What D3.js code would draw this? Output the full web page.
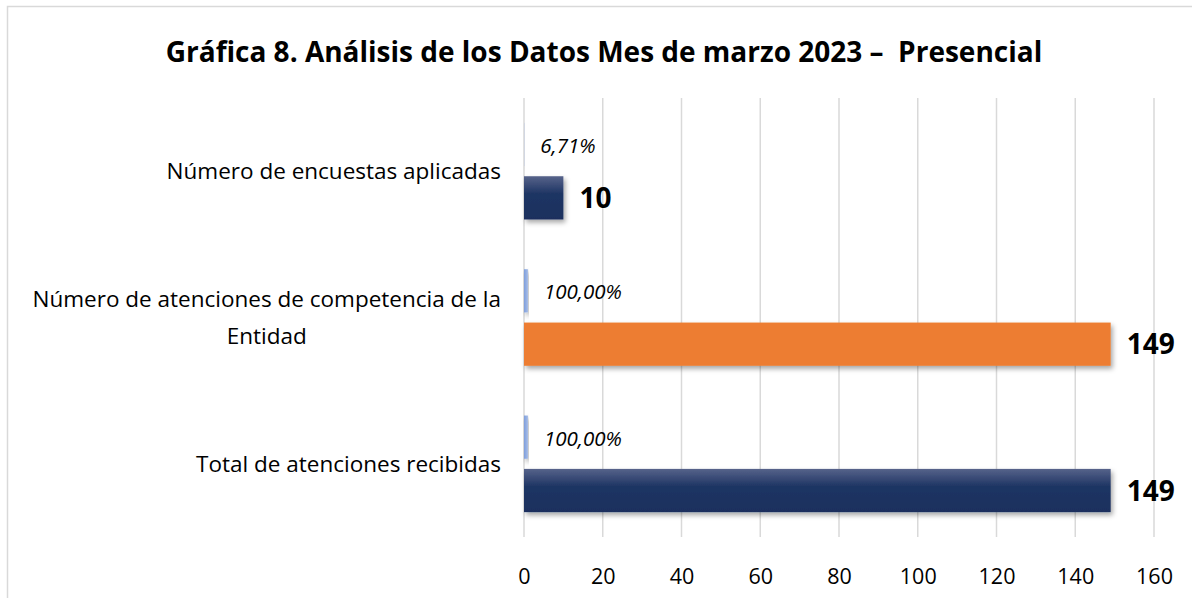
<!DOCTYPE html>
<html>
<head>
<meta charset="utf-8">
<script src="https://cdn.jsdelivr.net/npm/d3@7"></script>
<style>
  html, body { margin: 0; padding: 0; background: #ffffff; }
  svg { display: block; }
</style>
</head>
<body>
<svg id="chart" width="1192" height="598"></svg>
<script>
const title = "Gráfica 8. Análisis de los Datos Mes de marzo 2023 –  Presencial";
const categories = [
  "Número de encuestas aplicadas",
  "Número de atenciones de competencia de la Entidad",
  "Total de atenciones recibidas"
];
const percentValues = [0.0671, 1, 1];
const percentLabels = ["6,71%", "100,00%", "100,00%"];
const countValues = [10, 149, 149];
const countColors = ["navy", "orange", "navy"];
const xTicks = [0, 20, 40, 60, 80, 100, 120, 140, 160];
const series = ["percent", "count"];

const FONT = "'Open Sans', 'Noto Sans', sans-serif";
const svg = d3.select("#chart");

// defs: gradients + shadow
const defs = svg.append("defs");
const gNavy = defs.append("linearGradient").attr("id", "navyGrad")
  .attr("x1", 0).attr("y1", 0).attr("x2", 0).attr("y2", 1);
gNavy.append("stop").attr("offset", "0%").attr("stop-color", "#56638a");
gNavy.append("stop").attr("offset", "40%").attr("stop-color", "#1f3564");
gNavy.append("stop").attr("offset", "100%").attr("stop-color", "#1a2f5d");
const gBlue = defs.append("linearGradient").attr("id", "blueGrad")
  .attr("x1", 0).attr("y1", 0).attr("x2", 1).attr("y2", 0);
gBlue.append("stop").attr("offset", "0%").attr("stop-color", "#7f9fdc");
gBlue.append("stop").attr("offset", "100%").attr("stop-color", "#a6bce6");
const shadow = defs.append("filter").attr("id", "shadow")
  .attr("x", "-10%").attr("y", "-20%").attr("width", "130%").attr("height", "160%");
shadow.append("feDropShadow").attr("dx", 2).attr("dy", 3).attr("stdDeviation", 2.5)
  .attr("flood-color", "#000").attr("flood-opacity", 0.35);

const colorFor = c => c === "navy" ? "url(#navyGrad)" : "#ED7D31";

// frame
svg.append("rect").attr("x", 7.5).attr("y", 6.5).attr("width", 1200).attr("height", 600)
  .attr("fill", "#ffffff").attr("stroke", "#d9d9d9").attr("stroke-width", 1.5);

// title
svg.append("text").attr("x", 604).attr("y", 62).attr("text-anchor", "middle")
  .attr("font-family", FONT).attr("font-weight", "bold").attr("font-size", 28)
  .attr("fill", "#000").style("white-space", "pre").text(title);

// scales
const plotTop = 98, plotBottom = 537;
const x = d3.scaleLinear().domain([0, 160]).range([524, 1154]);
const y0 = d3.scaleBand().domain(d3.range(categories.length))
  .range([plotTop, plotBottom]).paddingInner(0.34).paddingOuter(0.17);
const y1 = d3.scaleBand().domain(series).range([0, y0.bandwidth()]).paddingInner(0.19);
const yCat = d3.scaleBand().domain(d3.range(categories.length)).range([plotTop, plotBottom]);

// gridlines
svg.append("g").selectAll("line").data(xTicks).join("line")
  .attr("x1", d => x(d)).attr("x2", d => x(d))
  .attr("y1", plotTop).attr("y2", plotBottom)
  .attr("stroke", "#d9d9d9").attr("stroke-width", 1.5);

// x axis labels
const xAxis = d3.axisBottom(x).tickValues(xTicks).tickSize(0).tickPadding(0)
  .tickFormat(d => String(d));
const gx = svg.append("g").attr("transform", `translate(0, 569)`).call(xAxis);
gx.select(".domain").remove();
gx.selectAll("text").attr("font-family", FONT).attr("font-size", 21.5).attr("fill", "#000");

// category labels (wrapped, block right-aligned, lines centered)
const labelRight = 501, maxLabelW = 485, catSize = 22.5;
categories.forEach((cat, i) => {
  const g = svg.append("g");
  const words = cat.split(" ");
  const measure = g.append("text").attr("font-family", FONT).attr("font-size", catSize);
  const lines = [];
  let cur = "";
  words.forEach(w => {
    const test = cur ? cur + " " + w : w;
    measure.text(test);
    if (measure.node().getComputedTextLength() > maxLabelW && cur) {
      lines.push(cur); cur = w;
    } else cur = test;
  });
  lines.push(cur);
  let maxW = 0;
  lines.forEach(l => { measure.text(l); maxW = Math.max(maxW, measure.node().getComputedTextLength()); });
  measure.remove();
  const cy = yCat(i) + yCat.bandwidth() / 2;
  const lh = 37;
  const startY = cy - (lines.length - 1) * lh / 2;
  lines.forEach((l, k) => {
    g.append("text").attr("x", labelRight - maxW / 2).attr("y", startY + k * lh)
      .attr("dy", "0.35em").attr("text-anchor", "middle")
      .attr("font-family", FONT).attr("font-size", catSize).attr("fill", "#000").text(l);
  });
});

// bars
const groups = svg.append("g").selectAll("g").data(categories.map((c, i) => i)).join("g")
  .attr("transform", i => `translate(0, ${y0(i)})`);

groups.append("rect")
  .attr("x", x(0)).attr("y", y1("percent"))
  .attr("width", i => x(percentValues[i]) - x(0)).attr("height", y1.bandwidth())
  .attr("fill", "url(#blueGrad)").attr("filter", "url(#shadow)");

groups.append("rect")
  .attr("x", x(0)).attr("y", y1("count"))
  .attr("width", i => x(countValues[i]) - x(0)).attr("height", y1.bandwidth())
  .attr("fill", i => colorFor(countColors[i])).attr("filter", "url(#shadow)");

groups.append("text")
  .attr("x", i => x(percentValues[i]) + 16)
  .attr("y", y1("percent") + y1.bandwidth() / 2).attr("dy", "0.42em")
  .attr("font-family", FONT).attr("font-style", "italic").attr("font-size", 20.5)
  .attr("fill", "#000").text(i => percentLabels[i]);

groups.append("text")
  .attr("x", i => x(countValues[i]) + 16)
  .attr("y", y1("count") + y1.bandwidth() / 2).attr("dy", "0.36em")
  .attr("font-family", FONT).attr("font-weight", "bold").attr("font-size", 28)
  .attr("fill", "#000").text(i => countValues[i]);
</script>
</body>
</html>
